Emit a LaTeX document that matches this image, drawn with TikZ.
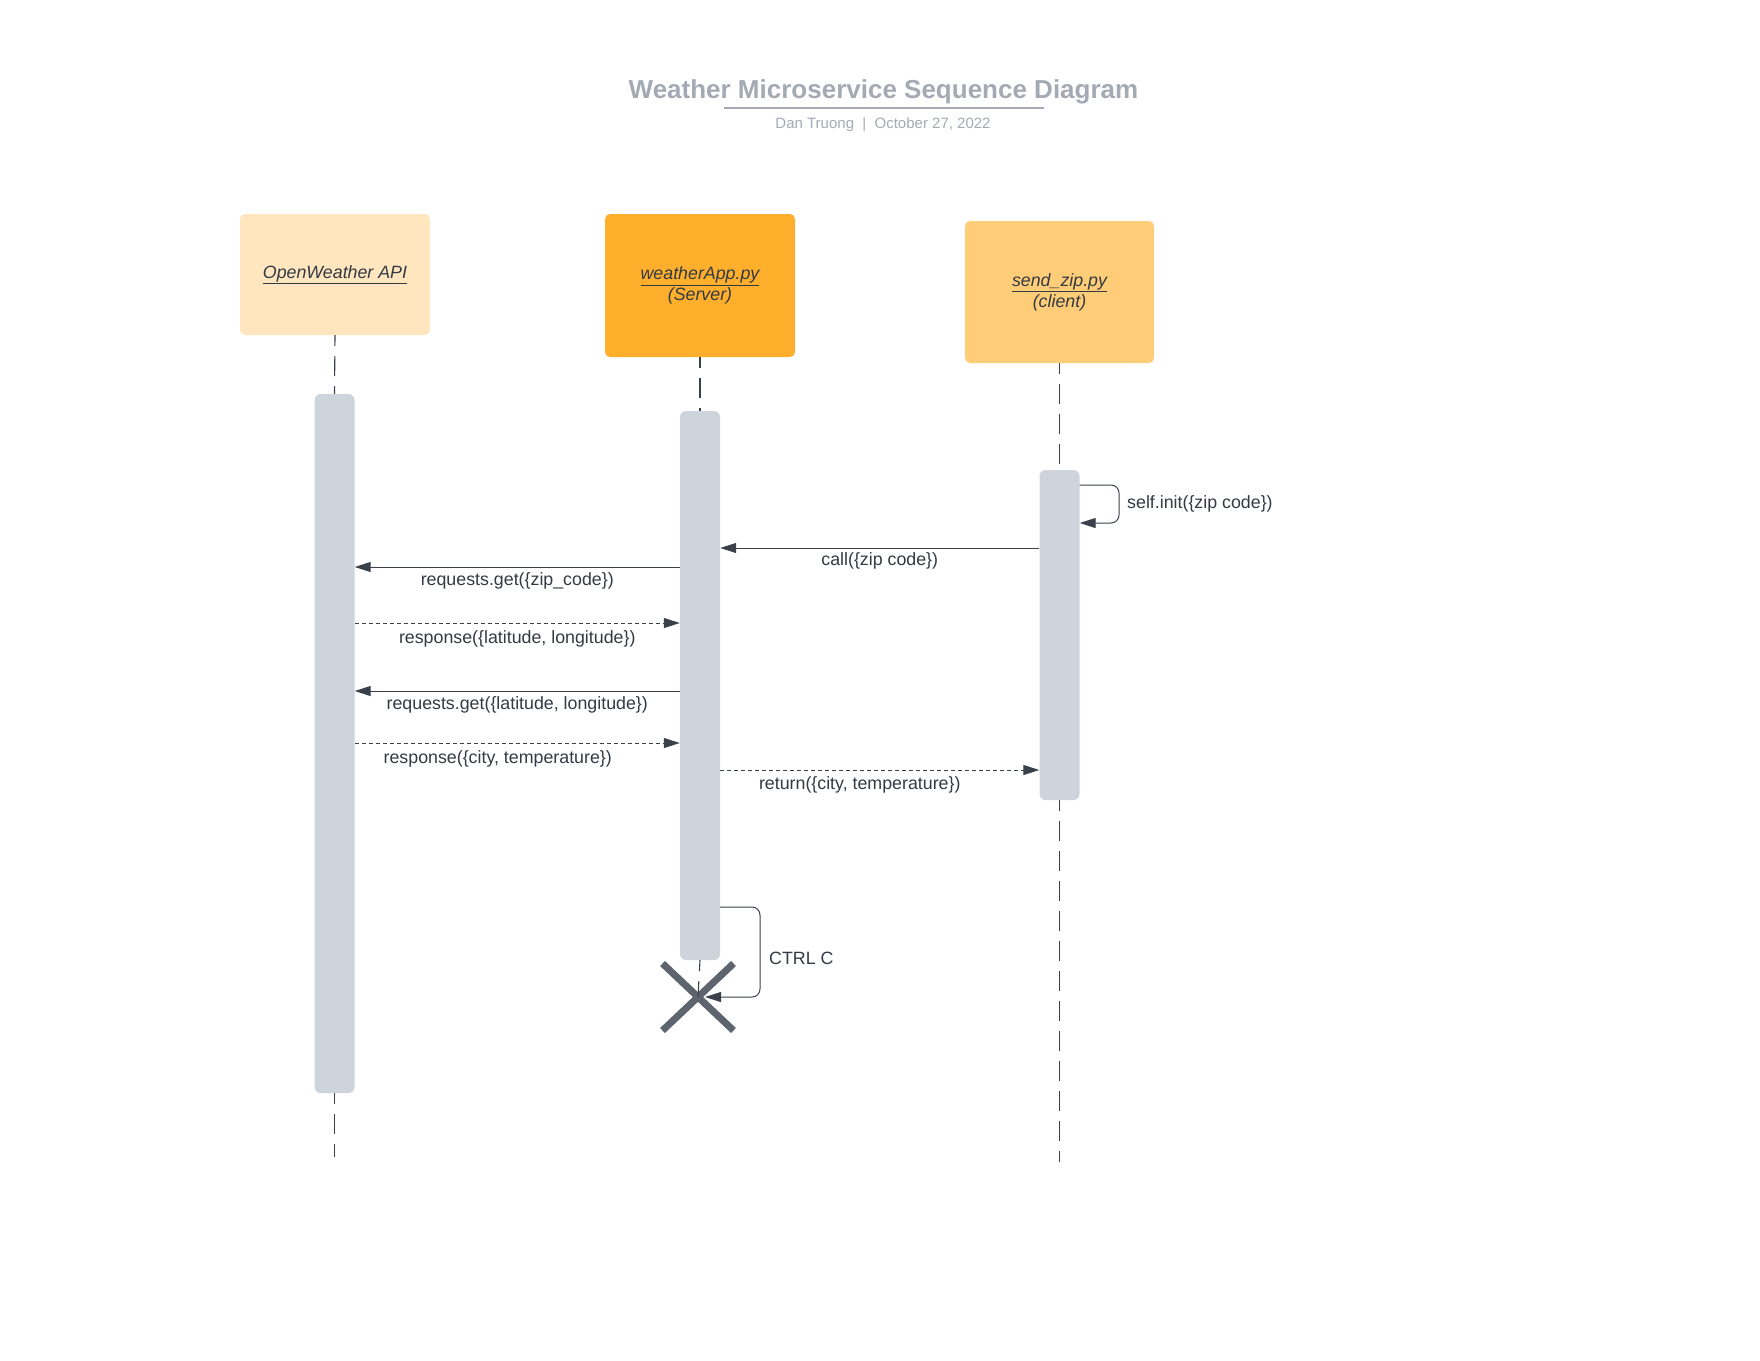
\documentclass[tikz,border=0pt]{standalone}
\usepackage{fontspec}
\setmainfont{Liberation Sans}
\usetikzlibrary{arrows.meta,shapes.misc,calc}
\definecolor{titlegray}{HTML}{A3AAB4}
\definecolor{linec}{HTML}{3A414A}
\definecolor{barc}{HTML}{CED4DB}
\definecolor{boxa}{HTML}{FFE6BF}
\definecolor{boxb}{HTML}{FFAF2C}
\definecolor{boxc}{HTML}{FFCC78}
\definecolor{xcol}{HTML}{5E646E}
\definecolor{txt}{HTML}{333A44}
\begin{document}
\begin{tikzpicture}[x=1pt,y=-1pt,
  actor/.style={rounded corners=5pt, inner sep=0pt, align=center,
    font=\fontsize{17.8}{21}\selectfont\itshape, text=txt},
  bar/.style={fill=barc, rounded corners=6pt, inner sep=0pt, minimum width=40pt},
  life/.style={draw=linec, line width=1.1pt, dash pattern=on 20pt off 10pt, dash phase=9pt},
  msg/.style={draw=linec, line width=1pt, -{Triangle[length=16pt,width=10pt]}},
  reply/.style={msg, dash pattern=on 4pt off 3pt},
  lbl/.style={font=\fontsize{17.8}{21}\selectfont, text=txt, inner sep=0pt,
    text height=13pt, text depth=4pt}
]
\useasboundingbox (0,0) rectangle (1760,1360);

% title
\node[font=\fontsize{26}{30}\selectfont\bfseries, text=titlegray] (title) at (883.5,91.5)
  {Weather Microservice Sequence Diagram};
\coordinate (ulA) at (724,108);
\coordinate (ulB) at (1044,108);
\draw[titlegray, line width=2pt] (ulA) -- (ulB);
\node[font=\fontsize{15}{18}\selectfont, text=titlegray] (sub) at (883,125)
  {Dan Truong\ \ |\ \ October 27, 2022};

% actors
\node[actor, fill=boxa, minimum width=190pt, minimum height=121pt] (api) at (335,274.5)
  {\underline{OpenWeather API}};
\node[actor, fill=boxb, minimum width=190pt, minimum height=143pt] (srv) at (700,285.5)
  {\underline{weatherApp.py}\\(Server)};
\node[actor, fill=boxc, minimum width=189pt, minimum height=142pt] (cli) at (1059.5,292)
  {\underline{send\_zip.py}\\(client)};

% activation bars
\node[bar, minimum height=699pt] (bar1) at (334.5,743.5) {};
\node[bar, minimum height=549pt] (bar2) at (700,685.5) {};
\node[bar, minimum height=330pt] (bar3) at (1059.5,635) {};

% lifelines
\coordinate (end1) at (334.5,1157);
\coordinate (end3) at (1059.5,1162);
\draw[life] (api.south) -- (bar1.north);
\draw[life] (bar1.south) -- (end1);
\draw[life] (srv.south) -- (bar2.north);
\draw[life] (cli.south) -- (bar3.north);
\draw[life] (bar3.south) -- (end3);

% destruction
\node[cross out, draw=xcol, line width=7pt, minimum width=64pt, minimum height=60pt,
  inner sep=0pt] (kill) at (698,997) {};
\draw[life] (bar2.south) -- (kill.center);

% self.init loop
\draw[msg, rounded corners=8pt] (bar3.east |- 0,485) -- (1119,485) -- (1119,523) -- (bar3.east |- 0,523);
\node[lbl, anchor=west] (initlbl) at (1127,503.5) {self.init(\{zip code\})};

% messages
\draw[msg] (bar3.west |- 0,548) -- node[lbl, yshift=-13pt] (l1) {call(\{zip code\})} (bar2.east |- 0,548);
\draw[msg] (bar2.west |- 0,567) -- node[lbl, yshift=-14pt] (l2) {requests.get(\{zip\_code\})} (bar1.east |- 0,567);
\draw[reply] (bar1.east |- 0,623) -- node[lbl, yshift=-15.5pt] (l3) {response(\{latitude, longitude\})} (bar2.west |- 0,623);
\draw[msg] (bar2.west |- 0,691) -- node[lbl, yshift=-13.5pt] (l4) {requests.get(\{latitude, longitude\})} (bar1.east |- 0,691);
\draw[reply] (bar1.east |- 0,743) -- node[lbl, yshift=-15.5pt, xshift=-19.5pt] (l5) {response(\{city, temperature\})} (bar2.west |- 0,743);
\draw[reply] (bar2.east |- 0,770) -- node[lbl, yshift=-15pt, xshift=-20pt] (l6) {return(\{city, temperature\})} (bar3.west |- 0,770);

% CTRL C loop
\draw[msg, rounded corners=8pt] (bar2.east |- 0,907) -- (760,907) -- (760,997) -- ([xshift=7pt]kill.center);
\node[lbl, anchor=west] (ctrl) at (769,960) {CTRL C};
\end{tikzpicture}
\end{document}
